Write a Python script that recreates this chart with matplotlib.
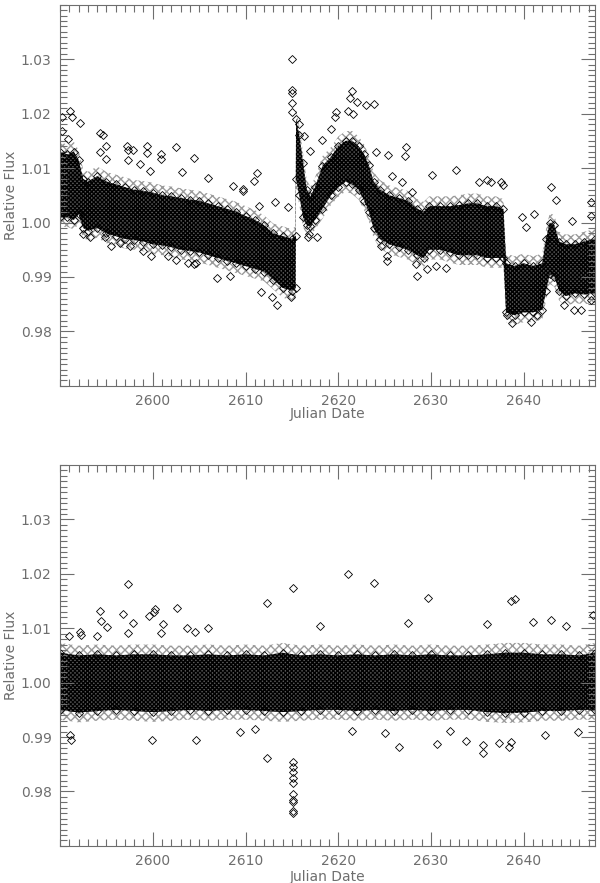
import matplotlib
matplotlib.use("Agg")
import matplotlib.pyplot as plt
from matplotlib.ticker import MultipleLocator

# ---- top panel: raw light curve ----
# dense core of the cloud (lower / upper edge)
top_t = [2590.0, 2590.8, 2591.5, 2592.0, 2592.5, 2593.0, 2594.0, 2595.0, 2596.0, 2597.0,
         2598.0, 2599.0, 2600.0, 2601.0, 2602.0, 2603.0, 2604.0, 2605.0, 2606.0, 2607.0,
         2608.0, 2609.0, 2610.0, 2611.0, 2612.0, 2613.0, 2614.0, 2615.0, 2615.4,
         2615.45, 2615.8, 2616.2, 2616.6, 2617.0, 2617.5, 2618.3, 2619.2, 2620.0, 2620.8,
         2621.5, 2622.2, 2622.8, 2623.3, 2623.8, 2624.5, 2625.5, 2626.5, 2627.5, 2628.5,
         2629.2, 2629.8, 2631.0, 2632.0, 2633.0, 2634.0, 2635.0, 2636.0, 2637.0, 2637.8,
         2638.1, 2639.0, 2640.0, 2641.0, 2642.0, 2642.4, 2642.8, 2643.3, 2643.8, 2644.5,
         2645.5, 2646.5, 2647.7]
top_lo = [1.0010, 1.0010, 1.0005, 1.0015, 0.9990, 0.9985, 0.9990, 0.9980, 0.9975, 0.9970,
          0.9968, 0.9965, 0.9960, 0.9958, 0.9955, 0.9950, 0.9948, 0.9945, 0.9940, 0.9935,
          0.9930, 0.9925, 0.9920, 0.9915, 0.9910, 0.9895, 0.9880, 0.9875, 0.9880,
          1.0080, 1.0050, 1.0010, 0.9995, 0.9993, 1.0005, 1.0025, 1.0050, 1.0065, 1.0075,
          1.0070, 1.0060, 1.0040, 1.0020, 0.9990, 0.9970, 0.9960, 0.9955, 0.9950, 0.9940,
          0.9935, 0.9950, 0.9950, 0.9945, 0.9940, 0.9940, 0.9940, 0.9935, 0.9935, 0.9935,
          0.9835, 0.9830, 0.9835, 0.9835, 0.9840, 0.9875, 0.9905, 0.9900, 0.9875, 0.9865,
          0.9870, 0.9868, 0.9870]
top_hi = [1.0130, 1.0125, 1.0130, 1.0115, 1.0080, 1.0075, 1.0085, 1.0075, 1.0070, 1.0065,
          1.0060, 1.0058, 1.0055, 1.0050, 1.0048, 1.0045, 1.0042, 1.0040, 1.0035, 1.0030,
          1.0025, 1.0020, 1.0012, 1.0005, 0.9995, 0.9980, 0.9975, 0.9970, 0.9975,
          1.0190, 1.0160, 1.0110, 1.0060, 1.0048, 1.0065, 1.0104, 1.0120, 1.0140, 1.0150,
          1.0150, 1.0140, 1.0125, 1.0105, 1.0075, 1.0060, 1.0050, 1.0045, 1.0040, 1.0025,
          1.0020, 1.0030, 1.0030, 1.0030, 1.0032, 1.0035, 1.0035, 1.0030, 1.0030, 1.0025,
          0.9925, 0.9920, 0.9925, 0.9920, 0.9925, 0.9970, 1.0000, 0.9995, 0.9965, 0.9960,
          0.9960, 0.9965, 0.9970]

# scattered points outside the core
top_out_t = [2591.1, 2590.2, 2591.3, 2592.2, 2590.2, 2594.3, 2594.6, 2590.9, 2595.0, 2597.2,
             2599.4, 2602.5, 2597.3, 2597.9, 2599.4, 2600.9, 2600.9, 2604.5, 2594.3, 2597.3,
             2598.6, 2599.7, 2603.2, 2595.0,
             2615.05, 2615.05, 2615.05, 2615.05, 2615.05, 2621.5, 2621.3, 2622.0, 2623.0, 2623.9,
             2619.8, 2619.6, 2621.0, 2621.6, 2619.2, 2618.3, 2616.3, 2615.8, 2616.9, 2627.3,
             2627.2, 2625.4, 2624.1, 2611.2, 2610.9, 2609.7, 2613.2, 2614.6, 2611.5, 2625.8,
             2626.9, 2628.0, 2616.7, 2617.7, 2616.8, 2624.6, 2625.3, 2625.3, 2628.4, 2629.6,
             2592.5, 2593.2, 2594.8, 2595.5, 2596.5, 2597.6, 2598.9, 2599.8, 2601.6, 2602.5,
             2603.8, 2604.5, 2606.9, 2608.3, 2611.7, 2612.9, 2613.4, 2614.9, 2604.7, 2606.0,
             2608.6, 2609.7, 2630.1, 2632.7, 2628.5, 2630.5, 2631.6, 2635.2, 2636.0, 2636.5,
             2637.5, 2637.8, 2642.9, 2643.5, 2641.1, 2639.8, 2640.2, 2645.2, 2647.2, 2638.2,
             2638.7, 2640.8, 2641.4, 2647.2, 2646.2, 2645.4, 2644.3, 2647.3]
top_out_f = [1.0205, 1.0194, 1.0194, 1.0183, 1.0168, 1.0165, 1.0160, 1.0153, 1.0140, 1.0140,
             1.0140, 1.0138, 1.0133, 1.0133, 1.0128, 1.0126, 1.0117, 1.0118, 1.0130, 1.0114,
             1.0108, 1.0095, 1.0092, 1.0117,
             1.0301, 1.0244, 1.0237, 1.0220, 1.0203, 1.0242, 1.0228, 1.0222, 1.0215, 1.0218,
             1.0203, 1.0194, 1.0205, 1.0200, 1.0172, 1.0152, 1.0159, 1.0181, 1.0132, 1.0138,
             1.0122, 1.0124, 1.0130, 1.0091, 1.0076, 1.0058, 1.0037, 1.0028, 1.0030, 1.0085,
             1.0074, 1.0056, 0.9973, 0.9973, 0.9978, 0.9956, 0.9938, 0.9929, 0.9923, 0.9914,
             0.9978, 0.9973, 0.9973, 0.9956, 0.9963, 0.9956, 0.9947, 0.9938, 0.9938, 0.9932,
             0.9926, 0.9923, 0.9899, 0.9901, 0.9873, 0.9864, 0.9849, 0.9864, 0.9926, 1.0081,
             1.0067, 1.0061, 1.0087, 1.0096, 0.9901, 0.9920, 0.9917, 1.0074, 1.0078, 1.0074,
             1.0074, 1.0069, 1.0065, 1.0041, 1.0015, 1.0010, 0.9991, 1.0002, 1.0037, 0.9831,
             0.9816, 0.9818, 0.9831, 1.0012, 0.9840, 0.9840, 0.9849, 0.9858]

# ---- bottom panel: detrended light curve ----
bot_t = [2590.0, 2592.0, 2594.0, 2596.0, 2598.0, 2600.0, 2602.0, 2604.0, 2606.0, 2608.0,
         2610.0, 2612.0, 2614.0, 2616.0, 2618.0, 2620.0, 2622.0, 2624.0, 2626.0, 2628.0,
         2630.0, 2632.0, 2634.0, 2636.0, 2638.0, 2640.0, 2642.0, 2644.0, 2646.0, 2647.7]
bot_lo = [0.9950, 0.9945, 0.9948, 0.9950, 0.9948, 0.9946, 0.9948, 0.9950, 0.9948, 0.9950,
          0.9950, 0.9948, 0.9946, 0.9948, 0.9950, 0.9950, 0.9948, 0.9950, 0.9948, 0.9950,
          0.9948, 0.9950, 0.9950, 0.9946, 0.9944, 0.9945, 0.9948, 0.9948, 0.9950, 0.9950]
bot_hi = [1.0055, 1.0050, 1.0052, 1.0050, 1.0052, 1.0052, 1.0050, 1.0050, 1.0052, 1.0050,
          1.0052, 1.0050, 1.0055, 1.0050, 1.0052, 1.0050, 1.0052, 1.0050, 1.0052, 1.0050,
          1.0052, 1.0050, 1.0050, 1.0052, 1.0055, 1.0055, 1.0052, 1.0052, 1.0050, 1.0055]

bot_out_t = [2597.3, 2594.3, 2594.4, 2595.1, 2596.8, 2597.9, 2599.6, 2600.1, 2600.2, 2601.1,
             2600.9, 2602.6, 2603.7, 2604.6, 2592.2, 2592.3, 2594.0, 2597.3, 2591.0,
             2612.3, 2615.1, 2621.1, 2623.9, 2629.7, 2638.6, 2639.1, 2642.9, 2647.5,
             2615.1, 2615.1, 2615.1, 2615.1, 2615.1, 2615.1, 2615.1, 2615.1, 2615.1, 2615.1,
             2591.2, 2599.9, 2604.7, 2612.3, 2626.6, 2630.6, 2633.8, 2635.6, 2635.6, 2637.3,
             2638.4, 2638.6, 2591.1, 2642.3, 2609.4, 2621.5, 2606.0, 2618.0, 2627.5, 2636.0,
             2641.0, 2644.5, 2611.0, 2625.0, 2632.0, 2645.8]
bot_out_f = [1.0182, 1.0132, 1.0114, 1.0103, 1.0127, 1.0110, 1.0123, 1.0130, 1.0136, 1.0107,
             1.0092, 1.0138, 1.0101, 1.0094, 1.0094, 1.0088, 1.0085, 1.0092, 1.0085,
             1.0147, 1.0174, 1.0200, 1.0183, 1.0155, 1.0150, 1.0154, 1.0115, 1.0125,
             0.9855, 0.9845, 0.9835, 0.9825, 0.9815, 0.9795, 0.9785, 0.9780, 0.9765, 0.9760,
             0.9895, 0.9895, 0.9895, 0.9862, 0.9882, 0.9888, 0.9892, 0.9886, 0.9871, 0.9890,
             0.9882, 0.9891, 0.9904, 0.9904, 0.9910, 0.9912, 1.0100, 1.0105, 1.0110, 1.0108,
             1.0112, 1.0105, 0.9915, 0.9908, 0.9912, 0.9910]

x_major = [2600, 2610, 2620, 2630, 2640]
y_major = [0.98, 0.99, 1.00, 1.01, 1.02, 1.03]
y_labels = ['0.98', '0.99', '1.00', '1.01', '1.02', '1.03']

GREY = '#6e6e6e'
DKW = dict(marker='D', ls='none', ms=4.2, mfc='none', mec='black', mew=0.6)


def draw_panel(ax, t, lo, hi, out_t, out_f, xlab_y):
    # sparse fringe round the core
    ax.fill_between(t, [v - 0.0018 for v in lo], [v + 0.0018 for v in hi],
                    facecolor='white', edgecolor='#9a9a9a', hatch='xxxx', linewidth=0)
    # dense core
    ax.fill_between(t, lo, hi, facecolor='#5a5a5a', edgecolor='black',
                    hatch='xxxxxxxx', linewidth=0)
    ax.plot(t, lo, **DKW)
    ax.plot(t, hi, **DKW)
    ax.plot(out_t, out_f, **DKW)

    ax.set_xlim(2590, 2647.7)
    ax.set_ylim(0.97, 1.04)
    ax.set_xticks(x_major)
    ax.set_xticklabels([str(v) for v in x_major])
    ax.set_yticks(y_major)
    ax.set_yticklabels(y_labels)
    ax.xaxis.set_minor_locator(MultipleLocator(1))
    ax.yaxis.set_minor_locator(MultipleLocator(0.001))
    ax.tick_params(which='both', direction='in', top=True, right=True,
                   color=GREY, labelcolor=GREY, labelsize=10, width=0.8)
    ax.tick_params(which='major', length=10, pad=6)
    ax.tick_params(which='minor', length=5)
    for s in ax.spines.values():
        s.set_color(GREY)
        s.set_linewidth(0.8)
    ax.set_xlabel('Julian Date', color=GREY, fontsize=10)
    ax.set_ylabel('Relative Flux', color=GREY, fontsize=10)
    ax.xaxis.set_label_coords(0.5, xlab_y)
    ax.yaxis.set_label_coords(-0.078, 0.5)


fig = plt.figure(figsize=(6.0, 8.83), dpi=100)
ax1 = fig.add_axes([0.100, 0.563, 0.892, 0.4317])
ax2 = fig.add_axes([0.100, 0.042, 0.892, 0.4314])

draw_panel(ax1, top_t, top_lo, top_hi, top_out_t, top_out_f, -0.055)
draw_panel(ax2, bot_t, bot_lo, bot_hi, bot_out_t, bot_out_f, -0.062)

fig.savefig('out.png', dpi=100)
